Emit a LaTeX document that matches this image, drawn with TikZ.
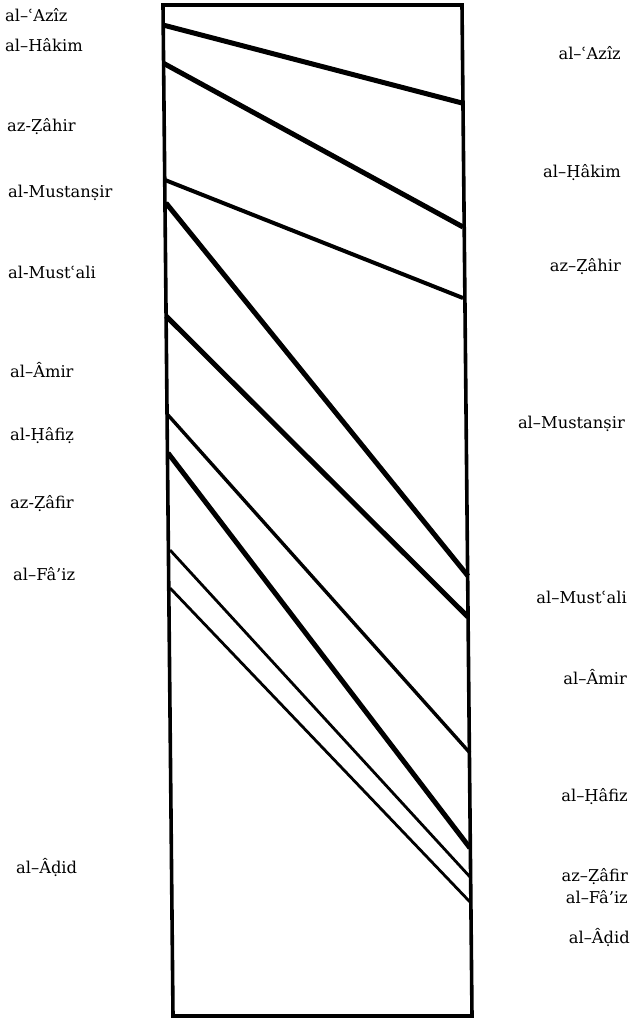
\documentclass[tikz,border=0pt]{standalone}
\usepackage{fontspec}
\setmainfont{DejaVu Serif}
\begin{document}
\begin{tikzpicture}[x=1pt,y=-1pt,
  boxline/.style={line width=3.6pt,line join=miter},
  heavy/.style={line width=5pt},
  mid/.style={line width=4pt},
  light/.style={line width=3.4pt},
  thin/.style={line width=2.8pt},
  lab/.style={inner sep=0pt,font=\fontsize{16.3}{17}\selectfont},
  llab/.style={lab,anchor=west},
  rlab/.style={lab,anchor=east}]
\useasboundingbox (0,0) rectangle (635,1018);
% box corners
\coordinate (TL) at (163,5);
\coordinate (TR) at (462,5);
\coordinate (BR) at (472,1016);
\coordinate (BL) at (173,1016);
\draw[boxline] (TL) -- (TR) -- (BR) -- (BL) -- cycle;
% left endpoints
\coordinate (l1) at (163,25);
\coordinate (l2) at (163,63);
\coordinate (l3) at (165,180);
\coordinate (l4) at (166,203);
\coordinate (l5) at (166,316);
\coordinate (l6) at (168,415);
\coordinate (l7) at (168,453);
\coordinate (l8) at (170,550);
\coordinate (l9) at (170,588);
% right endpoints
\coordinate (r1) at (462,103);
\coordinate (r2) at (463,227);
\coordinate (r3) at (463,298);
\coordinate (r4) at (468,576);
\coordinate (r5) at (468,617);
\coordinate (r6) at (470,753);
\coordinate (r7) at (470,848);
\coordinate (r8) at (471,878);
\coordinate (r9) at (471,903);
\draw[heavy] (l1) -- (r1);
\draw[heavy] (l2) -- (r2);
\draw[mid] (l3) -- (r3);
\draw[heavy] (l4) -- (r4);
\draw[heavy] (l5) -- (r5);
\draw[light] (l6) -- (r6);
\draw[heavy] (l7) -- (r7);
\draw[thin] (l8) -- (r8);
\draw[thin] (l9) -- (r9);
% left labels
\node[llab] (a1) at (5,15) {al–ʿAzîz};
\node[llab] (a2) at (5,45) {al–Hâkim};
\node[llab] (a3) at (7,127) {az-Ẓâhir};
\node[llab] (a4) at (8,193) {al-Mustanṣir};
\node[llab] (a5) at (8,272) {al-Mustʿali};
\node[llab] (a6) at (10,370) {al–Âmir};
\node[llab] (a7) at (10,436) {al-Ḥâfiẓ};
\node[llab] (a8) at (10,504) {az-Ẓâfir};
\node[llab] (a9) at (13,574) {al–Fâ'iz};
\node[llab] (a10) at (16,867) {al–Âḍid};
% right labels
\node[rlab] (b1) at (621,53) {al–ʿAzîz};
\node[rlab] (b2) at (621,173) {al–Ḥâkim};
\node[rlab] (b3) at (621,267) {az–Ẓâhir};
\node[rlab] (b4) at (625,424) {al–Mustanṣir};
\node[rlab] (b5) at (627,597) {al–Mustʿali};
\node[rlab] (b6) at (627,677) {al–Âmir};
\node[rlab] (b7) at (628,797) {al–Ḥâfiz};
\node[rlab] (b8) at (628,877) {az–Ẓâfir};
\node[rlab] (b9) at (628,897) {al–Fâ'iz};
\node[rlab] (b10) at (630,937) {al–Âḍid};
\end{tikzpicture}
\end{document}
